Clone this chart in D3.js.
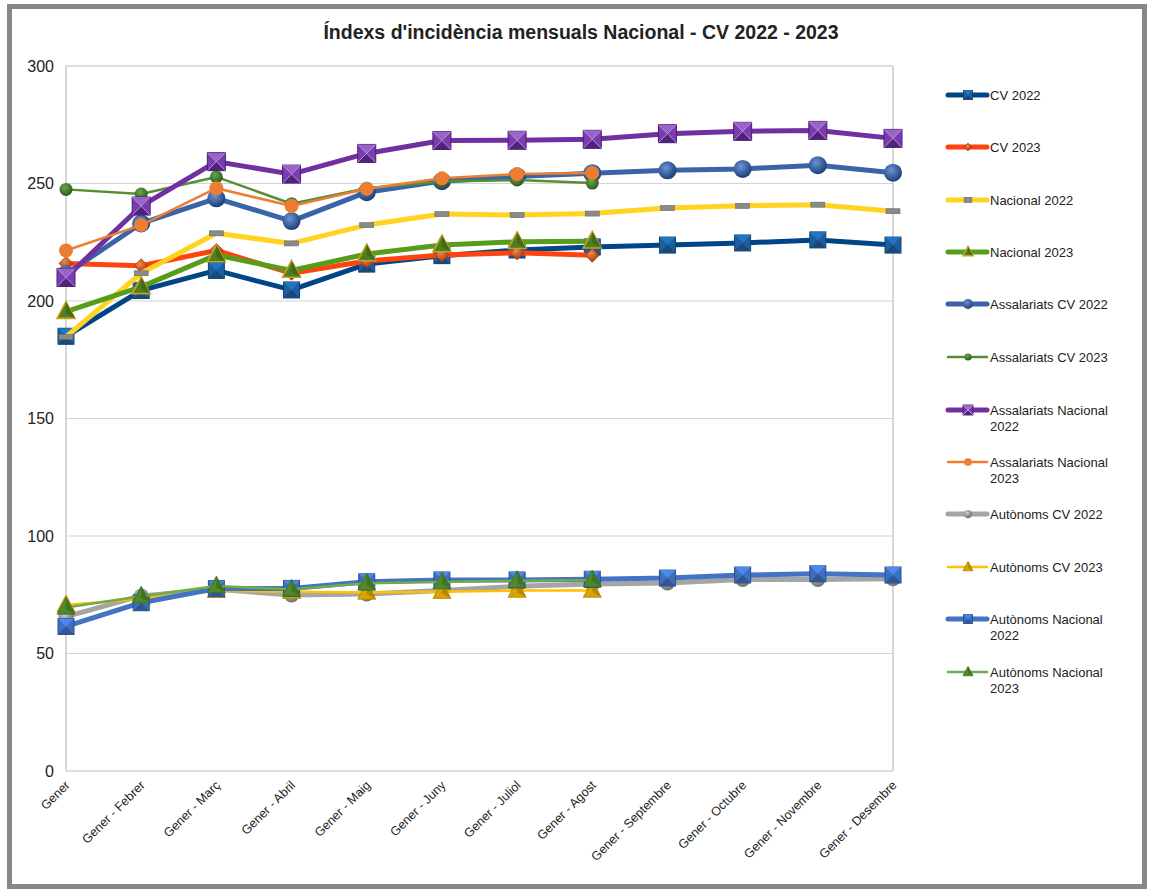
<!DOCTYPE html>
<html>
<head>
<meta charset="utf-8">
<script src="https://cdn.jsdelivr.net/npm/d3@7"></script>
<style>
  body { margin: 0; background: #fff; }
  svg text { font-family: "Liberation Sans", Arial, sans-serif; fill: #222; }
</style>
</head>
<body>
<div id="chart"></div>
<script>
// categories
var months = ["Gener", "Gener - Febrer", "Gener - Març", "Gener - Abril", "Gener - Maig", "Gener - Juny",
              "Gener - Juliol", "Gener - Agost", "Gener - Septembre", "Gener - Octubre", "Gener - Novembre", "Gener - Desembre"];
var yTicks = [0, 50, 100, 150, 200, 250, 300];

// series values
var cv2022 = [185, 204.5, 213, 204.7, 215.7, 219.3, 221.7, 223, 223.8, 224.7, 226, 223.8];
var cv2023 = [216, 215, 221.5, 211.8, 217, 219.6, 220.5, 219.5];
var nac2022 = [184.7, 211.8, 228.8, 224.5, 232.3, 237, 236.6, 237.2, 239.6, 240.5, 241, 238.2];
var nac2023 = [195.5, 206, 219.6, 213, 220, 223.8, 225.2, 225.4];
var assCv2022 = [211.5, 233, 243.7, 234, 246.3, 251, 253, 254.4, 255.6, 256.2, 257.8, 254.6];
var assCv2023 = [247.5, 245.5, 252.8, 241.4, 248, 250.8, 251.5, 250.2];
var assNac2022 = [210, 240.4, 259.3, 254, 262.8, 268.3, 268.4, 268.8, 271.2, 272.2, 272.6, 269.2];
var assNac2023 = [221.5, 232.3, 248, 240.4, 247.8, 252.2, 254, 254.5];
var autCv2022 = [65.7, 74.5, 77.3, 74.9, 75.3, 76.8, 78.6, 79.6, 80, 81.5, 81.5, 81.8];
var autCv2023 = [70.6, 73.3, 76.7, 76.3, 76, 76.3, 76.8, 76.8];
var autNac2022 = [61.5, 71.6, 77.6, 77.7, 80.5, 81.3, 81.3, 81.6, 82.1, 83.4, 83.9, 83.4];
var autNac2023 = [69.6, 74.4, 78.7, 77.3, 79.9, 80.4, 81, 81.3];

var series = [
  { name: ["CV 2022"], values: cv2022, color: "#004586", width: 5, marker: "square", mcolor: "#1d5e9e" },
  { name: ["CV 2023"], values: cv2023, color: "#ff420e", width: 5, marker: "diamond", mcolor: "#d2521e" },
  { name: ["Nacional 2022"], values: nac2022, color: "#ffd320", width: 5, marker: "dash", mcolor: "#8a8a8a" },
  { name: ["Nacional 2023"], values: nac2023, color: "#579d1c", width: 5, marker: "triangle", mcolor: "#4f7f22" },
  { name: ["Assalariats CV 2022"], values: assCv2022, color: "#3a64a8", width: 5, marker: "ball", mcolor: "#2f5597" },
  { name: ["Assalariats CV 2023"], values: assCv2023, color: "#548e35", width: 2.5, marker: "smallball", mcolor: "#3f7a28" },
  { name: ["Assalariats Nacional", "2022"], values: assNac2022, color: "#7030a0", width: 5, marker: "xsquare", mcolor: "#7a3db0" },
  { name: ["Assalariats Nacional", "2023"], values: assNac2023, color: "#ed7d31", width: 2.5, marker: "dot", mcolor: "#ed7d31" },
  { name: ["Autònoms CV 2022"], values: autCv2022, color: "#a5a5a5", width: 5, marker: "grayball", mcolor: "#8c8c8c" },
  { name: ["Autònoms CV 2023"], values: autCv2023, color: "#ffc000", width: 2.5, marker: "triangle", mcolor: "#d9a300" },
  { name: ["Autònoms Nacional", "2022"], values: autNac2022, color: "#4472c4", width: 5, marker: "square", mcolor: "#3e6ec0" },
  { name: ["Autònoms Nacional", "2023"], values: autNac2023, color: "#70ad47", width: 2.5, marker: "triangle", mcolor: "#4e8a2c" }
];

var W = 1150, H = 891;
var margin = { top: 66, left: 66, right: 257, bottom: 120 };
var plotW = W - margin.left - margin.right;   // 827
var plotH = H - margin.top - margin.bottom;   // 705

var svg = d3.select("#chart").append("svg")
  .attr("width", W).attr("height", H);

var defs = svg.append("defs");

// gradients for the beveled markers
function radial(id, light, dark) {
  var g = defs.append("radialGradient").attr("id", id)
    .attr("cx", "40%").attr("cy", "35%").attr("r", "65%");
  g.append("stop").attr("offset", "0%").attr("stop-color", light);
  g.append("stop").attr("offset", "100%").attr("stop-color", dark);
}
radial("gBall", "#6d93d4", "#1c3f78");
radial("gSmallBall", "#6aa84f", "#2d5a1b");
radial("gGrayBall", "#d0d0d0", "#6e6e6e");
radial("gDiamond", "#f08a4b", "#a8380c");

// frame
svg.append("rect")
  .attr("x", 9.5).attr("y", 6.5).attr("width", 1135).attr("height", 880)
  .attr("fill", "#fff").attr("stroke", "#888").attr("stroke-width", 5);

svg.append("text")
  .attr("x", 581).attr("y", 39)
  .attr("text-anchor", "middle")
  .style("font-family", "'Liberation Sans', Arial, sans-serif")
  .style("font-weight", "bold")
  .style("font-size", "19.5px")
  .attr("fill", "#111")
  .text("Índexs d'incidència mensuals Nacional - CV 2022 - 2023");

var x = d3.scalePoint().domain(months).range([0, plotW]);
var y = d3.scaleLinear().domain([0, 300]).range([plotH, 0]);

var g = svg.append("g").attr("transform", "translate(" + margin.left + "," + margin.top + ")");

// gridlines
g.append("g")
  .selectAll("line")
  .data(yTicks)
  .enter()
  .append("line")
  .attr("x1", 0).attr("x2", plotW)
  .attr("y1", function(d) { return y(d); })
  .attr("y2", function(d) { return y(d); })
  .attr("stroke", function(d) { return d === 0 || d === 300 ? "#bdbdbd" : "#d4d4d4"; })
  .attr("stroke-width", 1.2);

g.append("line").attr("x1", plotW).attr("x2", plotW).attr("y1", 0).attr("y2", plotH)
  .attr("stroke", "#bdbdbd").attr("stroke-width", 1.2);
g.append("line").attr("x1", 0).attr("x2", 0).attr("y1", 0).attr("y2", plotH)
  .attr("stroke", "#bdbdbd").attr("stroke-width", 1.2);

// y axis labels
var yAxis = d3.axisLeft(y).tickValues(yTicks).tickSize(0).tickPadding(12);
var yg = g.append("g").call(yAxis);
yg.select(".domain").remove();
yg.selectAll("text").style("font-size", "16px").style("font-family", "'Liberation Sans', Arial, sans-serif").attr("fill", "#111");

// x axis labels rotated
var xAxis = d3.axisBottom(x).tickSize(0).tickPadding(0);
var xg = g.append("g").attr("transform", "translate(0," + plotH + ")").call(xAxis);
xg.select(".domain").remove();
xg.selectAll("text")
  .style("font-size", "12.5px")
  .style("font-family", "'Liberation Sans', Arial, sans-serif")
  .attr("fill", "#222")
  .attr("text-anchor", "end")
  .attr("dy", null)
  .attr("y", 0)
  .attr("transform", "translate(4,15) rotate(-45)");

var line = d3.line()
  .x(function(d, i) { return x(months[i]); })
  .y(function(d) { return y(d); });

// marker drawing
function drawMarker(sel, s, scale) {
  var k = scale || 1;
  var m = s.marker;
  if (m === "square") {
    var a = 8 * k;
    sel.append("rect").attr("x", -a).attr("y", -a).attr("width", 2 * a).attr("height", 2 * a)
      .attr("fill", s.mcolor).attr("stroke", d3.color(s.mcolor).darker(1)).attr("stroke-width", 1);
    sel.append("path").attr("d", "M" + (-a) + "," + (-a) + "L0,0L" + a + "," + (-a) + "Z")
      .attr("fill", d3.color(s.mcolor).brighter(0.6));
    sel.append("path").attr("d", "M" + (-a) + "," + a + "L0,0L" + a + "," + a + "Z")
      .attr("fill", d3.color(s.mcolor).darker(0.7));
  } else if (m === "xsquare") {
    var b = 9 * k;
    sel.append("rect").attr("x", -b).attr("y", -b).attr("width", 2 * b).attr("height", 2 * b)
      .attr("fill", s.mcolor).attr("stroke", "#4b1d70").attr("stroke-width", 1);
    sel.append("path").attr("d", "M" + (-b) + "," + (-b) + "L0,0L" + b + "," + (-b) + "Z").attr("fill", "#9a63c8");
    sel.append("path").attr("d", "M" + (-b) + "," + b + "L0,0L" + b + "," + b + "Z").attr("fill", "#4f2378");
    sel.append("path").attr("d", "M" + (-b) + "," + (-b) + "L" + b + "," + b + "M" + b + "," + (-b) + "L" + (-b) + "," + b)
      .attr("stroke", "#b88ee0").attr("stroke-width", 1);
  } else if (m === "diamond") {
    var c = 7 * k;
    sel.append("path").attr("d", "M0," + (-c) + "L" + c + ",0L0," + c + "L" + (-c) + ",0Z")
      .attr("fill", "url(#gDiamond)").attr("stroke", "#a8380c").attr("stroke-width", 0.8);
  } else if (m === "dash") {
    sel.append("rect").attr("x", -7 * k).attr("y", -2.5).attr("width", 14 * k).attr("height", 5)
      .attr("fill", s.mcolor).attr("stroke", "#6b6b6b").attr("stroke-width", 0.6);
  } else if (m === "triangle") {
    var t = 9 * k;
    sel.append("path").attr("d", "M0," + (-t * 1.1) + "L" + t + "," + (t * 0.75) + "L" + (-t) + "," + (t * 0.75) + "Z")
      .attr("fill", s.mcolor).attr("stroke", s.name[0] === "Nacional 2023" ? "#c9a020" : d3.color(s.mcolor).darker(0.6))
      .attr("stroke-width", s.name[0] === "Nacional 2023" ? 1.6 : 0.8);
    sel.append("path").attr("d", "M0," + (-t * 1.1) + "L" + t + "," + (t * 0.75) + "L0," + (t * 0.2) + "Z")
      .attr("fill", d3.color(s.mcolor).darker(0.5));
  } else if (m === "ball") {
    sel.append("circle").attr("r", 9 * k).attr("fill", "url(#gBall)");
  } else if (m === "smallball") {
    sel.append("circle").attr("r", 6.5 * k).attr("fill", "url(#gSmallBall)");
  } else if (m === "grayball") {
    sel.append("circle").attr("r", 7.5 * k).attr("fill", "url(#gGrayBall)");
  } else if (m === "dot") {
    sel.append("circle").attr("r", 7 * k).attr("fill", s.mcolor);
  }
}

series.forEach(function(s) {
  g.append("path")
    .datum(s.values)
    .attr("fill", "none")
    .attr("stroke", s.color)
    .attr("stroke-width", s.width)
    .attr("stroke-linejoin", "round")
    .attr("d", line);

  g.append("g").selectAll("g")
    .data(s.values)
    .enter()
    .append("g")
    .attr("transform", function(d, i) { return "translate(" + x(months[i]) + "," + y(d) + ")"; })
    .each(function() { drawMarker(d3.select(this), s); });
});

// legend
var legendY = [95, 147, 200, 252, 304, 357, 410, 462, 514, 567, 619, 672];
var lg = svg.append("g");
series.forEach(function(s, i) {
  var row = lg.append("g").attr("transform", "translate(948," + legendY[i] + ")");
  row.append("line").attr("x1", 0).attr("x2", 39).attr("y1", 0).attr("y2", 0)
    .attr("stroke", s.color).attr("stroke-width", s.width).attr("stroke-linecap", "round");
  var mk = row.append("g").attr("transform", "translate(20,0)");
  drawMarker(mk, s, 0.55);
  s.name.forEach(function(t, j) {
    row.append("text").attr("x", 42).attr("y", 5 + j * 16)
      .style("font-size", "13px").attr("fill", "#222").text(t);
  });
});
</script>
</body>
</html>
